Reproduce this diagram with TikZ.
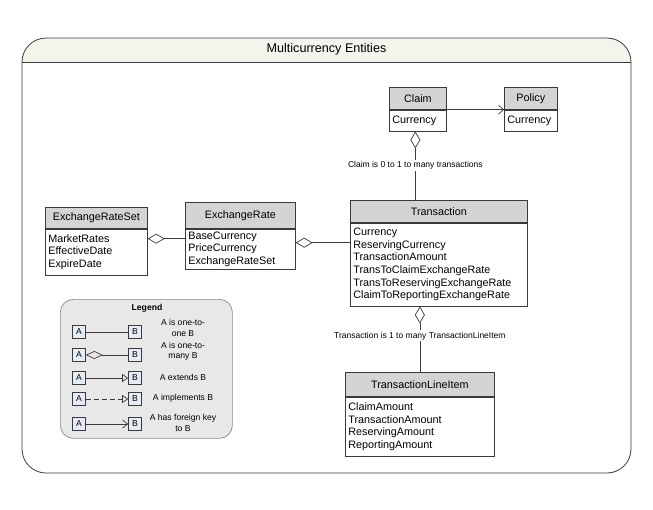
\documentclass[tikz,border=0pt]{standalone}
\usepackage{fontspec}
\setmainfont{Liberation Sans}
\usetikzlibrary{arrows.meta}
\definecolor{hdrgray}{HTML}{D4D4D4}
\definecolor{linegray}{HTML}{3A3A3A}
\definecolor{titlefill}{HTML}{F3F4EC}
\definecolor{legfill}{HTML}{E8E8E8}
\definecolor{legline}{HTML}{8A8A8A}
\definecolor{abfill}{HTML}{E6ECF6}
\tikzset{
  boxline/.style={draw=linegray, line width=0.7pt},
  hdr/.style={boxline, fill=hdrgray, anchor=north west, inner sep=0pt,
    font=\fontsize{10.8}{12.6}\selectfont, align=center},
  bodyb/.style={boxline, fill=white, anchor=north west, inner xsep=3pt, inner ysep=0pt,
    font=\fontsize{10.8}{12.6}\selectfont, align=left},
  conn/.style={draw=linegray, line width=0.7pt},
  dia/.style={conn, {Diamond[open, length=17pt, width=10pt, line width=0.7pt]}-},
  lbl/.style={fill=white, inner sep=1.5pt, font=\fontsize{8.5}{10}\selectfont},
  legtext/.style={font=\fontsize{8.6}{10.2}\selectfont, align=center},
  abbox/.style={draw=linegray, line width=0.6pt, fill=abfill, minimum width=13pt,
    minimum height=13pt, inner sep=0pt, font=\fontsize{8.6}{10}\selectfont},
}
\begin{document}
\begin{tikzpicture}[x=1pt,y=-1pt]
\useasboundingbox (0,0) rectangle (653,509);
% outer frame
\fill[titlefill] (22,62) [rounded corners=24pt] -- (22,38) -- (631,38) [sharp corners] -- (631,62) -- cycle;
\draw[draw=linegray, line width=0.8pt, rounded corners=24pt] (22,38) rectangle (631,473);
\draw[draw=linegray, line width=0.8pt] (22,62) -- (631,62);
\node[font=\fontsize{12.6}{14}\selectfont] (title) at (326.5,49.5) {Multicurrency Entities};

% Claim
\node[hdr, minimum width=57pt, minimum height=22pt] (claimH) at (389,87) {Claim};
\node[bodyb, text width=51pt, minimum height=21pt] (claimB) at (claimH.south west) {Currency};
% Policy
\node[hdr, minimum width=53pt, minimum height=22pt] (policyH) at (504,87) {Policy};
\node[bodyb, text width=47pt, minimum height=21pt] (policyB) at (policyH.south west) {Currency};

% Transaction
\node[hdr, minimum width=177pt, minimum height=22pt] (transH) at (350,200) {Transaction};
\node[bodyb, text width=171pt, minimum height=83pt] (transB) at (transH.south west)
  {Currency\\ReservingCurrency\\TransactionAmount\\TransToClaimExchangeRate\\TransToReservingExchangeRate\\ClaimToReportingExchangeRate};

% ExchangeRate
\node[hdr, minimum width=110pt, minimum height=26pt] (erH) at (185,202) {ExchangeRate};
\node[bodyb, text width=104pt, minimum height=40pt] (erB) at (erH.south west)
  {BaseCurrency\\PriceCurrency\\ExchangeRateSet};

% ExchangeRateSet
\node[hdr, minimum width=102pt, minimum height=21pt] (ersH) at (45,207) {ExchangeRateSet};
\node[bodyb, text width=96pt, minimum height=46pt] (ersB) at (ersH.south west)
  {MarketRates\\EffectiveDate\\ExpireDate};

% TransactionLineItem
\node[hdr, minimum width=149pt, minimum height=24pt] (tliH) at (345,372) {TransactionLineItem};
\node[bodyb, text width=143pt, minimum height=59pt] (tliB) at (tliH.south west)
  {ClaimAmount\\TransactionAmount\\ReservingAmount\\ReportingAmount};

% connectors
\draw[conn, -{Straight Barb[length=5pt, width=9pt, line width=0.7pt]}]
  (claimH.south east) -- (claimH.south east -| policyH.west);
\draw[dia] ([xshift=-2.5pt]claimB.south) -- ([xshift=-2.5pt]claimB.south |- transH.north)
  node[lbl, pos=0.5] (claimlbl) {Claim is 0 to 1 to many transactions};
\draw[dia] (tliH.north |- transB.south) -- (tliH.north)
  node[lbl, pos=0.45] (tlilbl) {Transaction is 1 to many TransactionLineItem};
\draw[dia] ([yshift=-10pt]ersB.north east) -- ([yshift=-10pt]ersB.north east -| erB.west);
\draw[dia] ([yshift=-14pt]erB.north east) -- ([yshift=-14pt]erB.north east -| transB.west);

% Legend
\node[draw=legline, line width=0.7pt, fill=legfill, rounded corners=13pt, anchor=north west,
  minimum width=172pt, minimum height=139pt, inner sep=0pt] (legend) at (60,299) {};
\node[font=\bfseries\fontsize{8.6}{10}\selectfont] (legtitle) at (147,308) {Legend};

\node[abbox] (a1) at (79,332) {A};  \node[abbox] (b1) at (135,332) {B};
\node[abbox] (a2) at (79,355) {A};  \node[abbox] (b2) at (135,355) {B};
\node[abbox] (a3) at (79,378) {A};  \node[abbox] (b3) at (135,378) {B};
\node[abbox] (a4) at (79,399) {A};  \node[abbox] (b4) at (135,399) {B};
\node[abbox] (a5) at (79,424) {A};  \node[abbox] (b5) at (135,424) {B};

\draw[conn] (a1) -- (b1);
\draw[conn, {Diamond[open, length=17pt, width=8pt, line width=0.7pt]}-] (a2) -- (b2);
\draw[conn, -{Triangle[open, length=6pt, width=8pt, line width=0.7pt]}] (a3) -- (b3);
\draw[conn, dashed, dash pattern=on 5pt off 3pt, -{Triangle[open, length=6pt, width=8pt, line width=0.7pt]}] (a4) -- (b4);
\draw[conn, -{Straight Barb[length=5pt, width=8pt, line width=0.7pt]}] (a5) -- (b5);

\node[legtext] (t1) at (183,328) {A is one-to-\\one B};
\node[legtext] (t2) at (183,351) {A is one-to-\\many B};
\node[legtext] (t3) at (183,377) {A extends B};
\node[legtext] (t4) at (183,398) {A implements B};
\node[legtext] (t5) at (183,423) {A has foreign key\\to B};
\end{tikzpicture}
\end{document}
